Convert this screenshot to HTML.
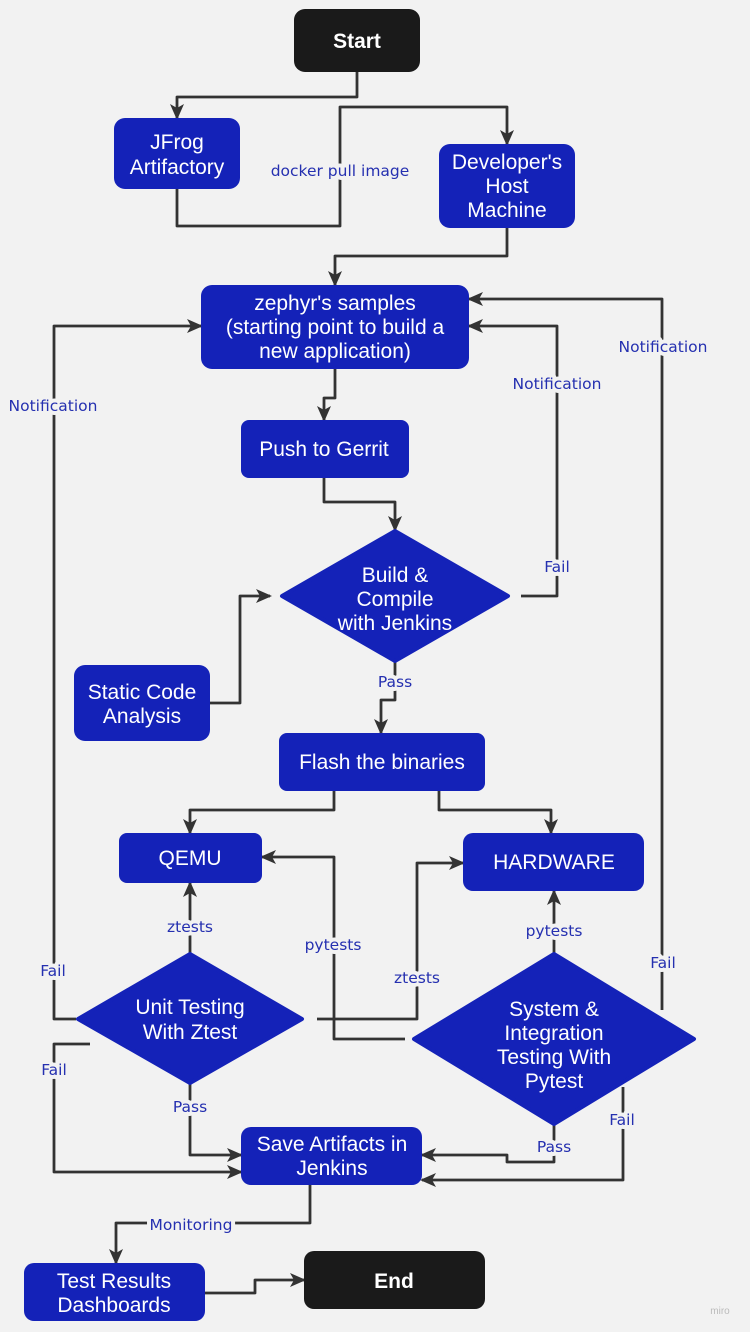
<!DOCTYPE html>
<html><head><meta charset="utf-8"><style>
html,body{margin:0;padding:0;background:#f2f2f2;}
svg{display:block;}
.n{font-family:"Liberation Sans",sans-serif;font-size:21px;fill:#fff;text-anchor:middle;}
.l{font-family:"DejaVu Sans","Liberation Sans",sans-serif;font-size:15.5px;fill:#2530b0;text-anchor:middle;stroke:#f2f2f2;stroke-width:8px;paint-order:stroke;stroke-linejoin:round;}
.c{fill:none;stroke:#333;stroke-width:2.8;stroke-linejoin:round;marker-end:url(#a);}
</style></head><body>
<svg width="750" height="1332" viewBox="0 0 750 1332" xmlns="http://www.w3.org/2000/svg">
<defs><marker id="a" viewBox="0 0 16 14" refX="14" refY="7" markerWidth="16" markerHeight="14" orient="auto" markerUnits="userSpaceOnUse">
<path d="M0,0 L16,7 L0,14 L4,7 z" fill="#333"/></marker></defs>
<rect width="750" height="1332" fill="#f2f2f2"/>

<path class="c" d="M357,72 V97 H177 V118"/>
<path class="c" d="M177,189 V226 H340 V107 H507 V144"/>
<path class="c" d="M507,228 V256 H335 V285"/>
<path class="c" d="M335,369 V398 H324 V420"/>
<path class="c" d="M324,478 V502 H395 V530"/>
<path class="c" d="M521,596 H557 V326 H469"/>
<path class="c" d="M210,703 H240 V596 H270"/>
<path class="c" d="M395,662 V700 H381 V733"/>
<path class="c" d="M334,791 V810 H190 V833"/>
<path class="c" d="M439,791 V810 H551 V833"/>
<path class="c" d="M190,953 V883"/>
<path class="c" d="M76,1019 H54 V326 H201"/>
<path class="c" d="M317,1019 H417 V863 H463"/>
<path class="c" d="M405,1039 H334 V857 H262"/>
<path class="c" d="M554,953 V891"/>
<path class="c" d="M662,1010 V299 H469"/>
<path class="c" d="M90,1044 H54 V1172 H241"/>
<path class="c" d="M190,1084 V1155 H241"/>
<path class="c" d="M554,1125 V1162 H507 V1155 H422"/>
<path class="c" d="M623,1087 V1180 H422"/>
<path class="c" d="M310,1185 V1223 H116 V1263"/>
<path class="c" d="M205,1293 H255 V1280 H304"/>

<rect x="294" y="9" width="126" height="63" rx="11" fill="#1a1a1a"/>
<text x="357" y="48" class="n" style="font-weight:bold">Start</text>
<rect x="114" y="118" width="126" height="71" rx="11" fill="#1422b8"/>
<text x="177" y="149" class="n">JFrog</text><text x="177" y="174" class="n">Artifactory</text>
<rect x="439" y="144" width="136" height="84" rx="11" fill="#1422b8"/>
<text x="507" y="169" class="n">Developer's</text><text x="507" y="193" class="n">Host</text><text x="507" y="217" class="n">Machine</text>
<rect x="201" y="285" width="268" height="84" rx="11" fill="#1422b8"/>
<text x="335" y="310" class="n">zephyr's samples</text><text x="335" y="334" class="n">(starting point to build a</text><text x="335" y="358" class="n">new application)</text>
<rect x="241" y="420" width="168" height="58" rx="8" fill="#1422b8"/>
<text x="324" y="456" class="n">Push to Gerrit</text>
<path d="M282,596 L395,531 L508,596 L395,661 Z" fill="#1422b8" stroke="#1422b8" stroke-width="4" stroke-linejoin="round"/>
<text x="395" y="582" class="n">Build &amp;</text><text x="395" y="606" class="n">Compile</text><text x="395" y="630" class="n">with Jenkins</text>
<rect x="74" y="665" width="136" height="76" rx="11" fill="#1422b8"/>
<text x="142" y="699" class="n">Static Code</text><text x="142" y="723" class="n">Analysis</text>
<rect x="279" y="733" width="206" height="58" rx="8" fill="#1422b8"/>
<text x="382" y="769" class="n">Flash the binaries</text>
<rect x="119" y="833" width="143" height="50" rx="8" fill="#1422b8"/>
<text x="190" y="865" class="n">QEMU</text>
<rect x="463" y="833" width="181" height="58" rx="10" fill="#1422b8"/>
<text x="554" y="869" class="n">HARDWARE</text>
<path d="M78,1019 L190,954 L302,1019 L190,1083 Z" fill="#1422b8" stroke="#1422b8" stroke-width="4" stroke-linejoin="round"/>
<text x="190" y="1014" class="n">Unit Testing</text><text x="190" y="1039" class="n">With Ztest</text>
<path d="M414,1039 L554,954 L694,1039 L554,1124 Z" fill="#1422b8" stroke="#1422b8" stroke-width="4" stroke-linejoin="round"/>
<text x="554" y="1016" class="n">System &amp;</text><text x="554" y="1040" class="n">Integration</text><text x="554" y="1064" class="n">Testing With</text><text x="554" y="1088" class="n">Pytest</text>
<rect x="241" y="1127" width="181" height="58" rx="10" fill="#1422b8"/>
<text x="332" y="1151" class="n">Save Artifacts in</text><text x="332" y="1175" class="n">Jenkins</text>
<rect x="24" y="1263" width="181" height="58" rx="10" fill="#1422b8"/>
<text x="114" y="1288" class="n">Test Results</text><text x="114" y="1312" class="n">Dashboards</text>
<rect x="304" y="1251" width="181" height="58" rx="10" fill="#1a1a1a"/>
<text x="394" y="1288" class="n" style="font-weight:bold">End</text>

<text x="340" y="176" class="l">docker pull image</text>
<text x="557" y="389" class="l">Notification</text>
<text x="557" y="572" class="l">Fail</text>
<text x="663" y="352" class="l">Notification</text>
<text x="53" y="411" class="l">Notification</text>
<text x="395" y="687" class="l">Pass</text>
<text x="190" y="932" class="l">ztests</text>
<text x="333" y="950" class="l">pytests</text>
<text x="417" y="983" class="l">ztests</text>
<text x="554" y="936" class="l">pytests</text>
<text x="53" y="976" class="l">Fail</text>
<text x="663" y="968" class="l">Fail</text>
<text x="54" y="1075" class="l">Fail</text>
<text x="190" y="1112" class="l">Pass</text>
<text x="554" y="1152" class="l">Pass</text>
<text x="622" y="1125" class="l">Fail</text>
<text x="191" y="1230" class="l">Monitoring</text>
<text x="720" y="1314" style="font-family:'Liberation Sans',sans-serif;font-size:10px;fill:#bbb;text-anchor:middle">miro</text>
</svg>
</body></html>
